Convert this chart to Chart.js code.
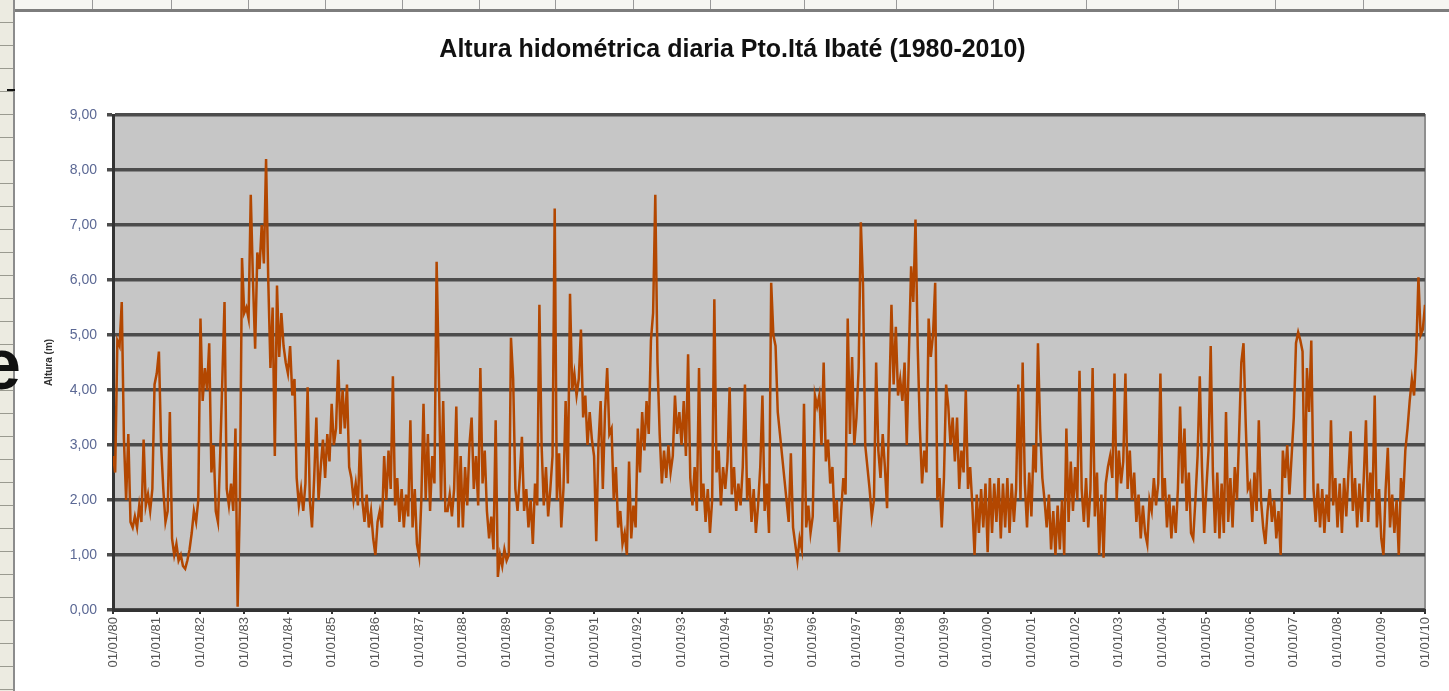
<!DOCTYPE html>
<html>
<head>
<meta charset="utf-8">
<script src="https://cdn.jsdelivr.net/npm/chart.js@4.4.1/dist/chart.umd.min.js"></script>
<style>
  body { margin: 0; background: #fff; }
  #marco { position: relative; width: 1449px; height: 691px; overflow: hidden; background: #fff; }
  #grafico { position: absolute; left: 0; top: 0; }
  .regla-sup { position: absolute; left: 0; top: 0; width: 1449px; height: 9px; background: #f6f6f2; }
  .linea-sup { position: absolute; left: 14px; top: 9px; width: 1435px; height: 3px; background: #7d7d7d; }
  .regla-izq { position: absolute; left: 0; top: 0; width: 13px; height: 691px; background: #ecebe1;
    background-image: repeating-linear-gradient(to bottom, transparent 0, transparent 22px, #9a9a90 22px, #9a9a90 23px); }
  .linea-izq { position: absolute; left: 13px; top: 0; width: 2px; height: 691px; background: #8c8c8c; }
  .marca { position: absolute; top: 0; width: 1px; height: 9px; background: #9a9a9a; }
  .guion { position: absolute; left: 7px; top: 89px; width: 8px; height: 2px; background: #111; }
  .letra { position: absolute; left: -19px; top: 328px; font: bold 72px/72px "Liberation Sans", Arial, sans-serif; color: #111; }
</style>
</head>
<body>
<div id="marco">
  <div class="regla-sup"></div>
  <div class="linea-sup"></div>
  <div class="regla-izq"></div>
  <div class="linea-izq"></div>
  <div class="guion"></div>
  <div class="letra">e</div>
  <canvas id="grafico" width="1449" height="691"></canvas>
</div>
<script>
// marcas de la regla superior de la planilla
const marcasRegla = [92, 171, 248, 325, 402, 479, 555, 633, 710, 804, 896, 993, 1086, 1178, 1275, 1363];
marcasRegla.forEach(x => {
    const d = document.createElement('div');
    d.className = 'marca';
    d.style.left = x + 'px';
    document.getElementById('marco').appendChild(d);
});

// datos: altura (m), 20 lecturas por año desde 01/01/80 hasta 01/01/10
const anioInicio = 1980;
const anioFin = 2010;
const lecturasPorAnio = 20;
const etiquetasX = ['01/01/80', '01/01/81', '01/01/82', '01/01/83', '01/01/84', '01/01/85', '01/01/86',
    '01/01/87', '01/01/88', '01/01/89', '01/01/90', '01/01/91', '01/01/92', '01/01/93', '01/01/94',
    '01/01/95', '01/01/96', '01/01/97', '01/01/98', '01/01/99', '01/01/00', '01/01/01', '01/01/02',
    '01/01/03', '01/01/04', '01/01/05', '01/01/06', '01/01/07', '01/01/08', '01/01/09', '01/01/10'];
const ticksY = [0, 1, 2, 3, 4, 5, 6, 7, 8, 9];
const alturas = [
    2.8, 2.5, 4.9, 4.8, 5.6, 3.1, 2.0, 3.2, 1.6, 1.5, 1.7, 1.5, 1.9, 1.6, 3.1, 1.9, 2.1, 1.8, 2.2, 4.1,        // 1980
    4.3, 4.7, 3.0, 2.2, 1.6, 1.8, 3.6, 1.3, 1.0, 1.2, 0.9, 1.0, 0.8, 0.75, 0.9, 1.1, 1.4, 1.8, 1.6, 2.0,       // 1981
    5.3, 3.8, 4.4, 4.0, 4.85, 2.5, 3.0, 1.8, 1.6, 2.8, 4.2, 5.6, 2.2, 1.9, 2.3, 1.8, 3.3, 0.06, 1.9, 6.4,     // 1982
    5.4, 5.5, 5.3, 7.55, 6.0, 4.75, 6.5, 6.2, 7.0, 6.3, 8.2, 6.0, 4.4, 5.5, 2.8, 5.9, 4.6, 5.4, 4.8, 4.5,    // 1983
    4.3, 4.8, 3.9, 4.2, 2.4, 1.9, 2.2, 1.8, 2.3, 4.05, 2.0, 1.5, 2.4, 3.5, 2.0, 2.6, 3.1, 2.4, 3.2, 2.7,      // 1984
    3.75, 3.0, 3.3, 4.55, 3.2, 4.0, 3.3, 4.1, 2.6, 2.4, 2.0, 2.3, 1.9, 3.1, 2.0, 1.6, 2.1, 1.5, 1.8, 1.3,     // 1985
    1.0, 1.6, 1.8, 1.5, 2.8, 2.0, 2.9, 2.2, 4.25, 1.9, 2.4, 1.6, 2.2, 1.5, 2.1, 1.7, 3.45, 1.5, 2.2, 1.2,     // 1986
    0.97, 2.0, 3.75, 2.0, 3.2, 1.8, 2.8, 2.3, 6.33, 4.3, 2.0, 3.8, 1.8, 1.8, 2.1, 1.7, 2.2, 3.7, 1.5, 2.8,    // 1987
    1.5, 2.6, 1.9, 3.0, 3.5, 2.2, 2.8, 1.9, 4.4, 2.3, 2.9, 1.8, 1.3, 1.7, 1.1, 3.45, 0.6, 1.0, 0.8, 1.1,      // 1988
    0.9, 1.0, 4.95, 4.2, 2.2, 1.8, 2.4, 3.15, 1.8, 2.2, 1.5, 2.0, 1.2, 2.3, 1.9, 5.55, 3.0, 1.9, 2.6, 1.7,    // 1989
    2.2, 2.8, 7.3, 2.0, 2.85, 1.5, 2.2, 3.8, 2.3, 5.75, 4.0, 4.3, 3.9, 4.2, 5.1, 3.5, 3.9, 3.0, 3.6, 3.1,     // 1990
    2.8, 1.25, 3.0, 3.8, 2.2, 3.6, 4.4, 3.2, 3.3, 2.0, 2.6, 1.5, 1.8, 1.2, 1.4, 1.0, 2.7, 1.3, 1.9, 1.5,      // 1991
    3.3, 2.5, 3.6, 2.9, 3.8, 3.2, 4.9, 5.4, 7.55, 4.5, 3.2, 2.3, 2.9, 2.4, 3.0, 2.5, 2.8, 3.9, 3.2, 3.6,      // 1992
    3.0, 3.8, 2.8, 4.65, 2.4, 1.9, 2.6, 1.8, 4.4, 2.0, 2.3, 1.6, 2.2, 1.4, 2.0, 5.65, 2.5, 2.9, 1.9, 2.6,     // 1993
    2.2, 2.7, 4.05, 2.1, 2.6, 1.8, 2.3, 1.9, 2.6, 4.1, 2.0, 2.4, 1.6, 2.2, 1.4, 1.9, 2.6, 3.9, 1.8, 2.3,      // 1994
    1.4, 5.95, 5.0, 4.8, 3.6, 3.2, 2.8, 2.4, 2.0, 1.6, 2.85, 1.5, 1.2, 0.9, 1.3, 1.1, 3.75, 1.5, 1.9, 1.4,    // 1995
    1.7, 3.9, 3.7, 3.9, 3.0, 4.5, 2.7, 3.1, 2.3, 2.6, 1.6, 2.0, 1.05, 1.8, 2.4, 2.1, 5.3, 3.2, 4.6, 3.0,      // 1996
    3.5, 4.4, 7.05, 5.9, 3.0, 2.6, 2.2, 1.7, 2.0, 4.5, 2.9, 2.4, 3.2, 2.6, 1.85, 3.8, 5.55, 4.1, 5.15, 3.9,   // 1997
    4.2, 3.8, 4.5, 3.0, 4.7, 6.25, 5.6, 7.1, 4.8, 3.3, 2.3, 2.9, 2.5, 5.3, 4.6, 5.0, 5.95, 2.0, 2.4, 1.5,     // 1998
    2.4, 4.1, 3.7, 3.0, 3.5, 2.7, 3.5, 2.2, 2.9, 2.5, 4.0, 2.2, 2.6, 1.9, 1.0, 2.1, 1.4, 2.2, 1.5, 2.3,       // 1999
    1.05, 2.4, 1.4, 2.3, 1.6, 2.4, 1.3, 2.3, 1.5, 2.4, 1.4, 2.3, 1.6, 2.2, 4.1, 2.0, 4.5, 2.3, 1.5, 2.5,      // 2000
    1.7, 3.0, 2.5, 4.85, 3.3, 2.4, 2.0, 1.5, 2.1, 1.1, 1.8, 1.0, 1.9, 1.1, 2.0, 1.0, 3.3, 1.6, 2.7, 1.8,      // 2001
    2.6, 2.0, 4.35, 2.2, 1.6, 2.4, 1.5, 2.2, 4.4, 1.7, 2.5, 1.0, 2.1, 0.95, 2.3, 2.6, 2.8, 2.4, 4.3, 2.0,     // 2002
    2.9, 2.3, 2.7, 4.3, 2.2, 2.9, 2.0, 2.5, 1.6, 2.1, 1.3, 1.9, 1.4, 1.2, 2.0, 1.8, 2.4, 1.9, 2.3, 4.3,       // 2003
    2.0, 2.4, 1.5, 2.1, 1.3, 1.9, 1.4, 2.2, 3.7, 2.3, 3.3, 1.8, 2.5, 1.4, 1.3, 2.0, 2.8, 4.25, 2.6, 1.4,      // 2004
    2.2, 2.9, 4.8, 2.5, 1.4, 2.5, 1.3, 2.3, 1.4, 3.6, 1.6, 2.4, 1.5, 2.6, 2.0, 3.2, 4.5, 4.85, 3.4, 2.2,      // 2005
    2.3, 1.6, 2.5, 1.8, 3.45, 2.0, 1.5, 1.2, 1.8, 2.2, 1.6, 2.0, 1.3, 1.8, 1.0, 2.9, 2.4, 3.0, 2.1, 2.8,      // 2006
    3.5, 4.85, 5.05, 4.9, 4.7, 2.0, 4.4, 3.6, 4.9, 2.2, 1.6, 2.3, 1.5, 2.2, 1.4, 2.1, 1.6, 3.45, 1.9, 2.4,    // 2007
    1.5, 2.3, 1.4, 2.4, 1.7, 2.5, 3.25, 1.8, 2.4, 1.5, 2.3, 1.6, 2.4, 3.45, 1.6, 2.5, 2.0, 3.9, 1.5, 2.2,     // 2008
    1.3, 1.0, 2.2, 2.95, 1.5, 2.1, 1.4, 2.0, 1.0, 2.4, 2.0, 2.9, 3.3, 3.8, 4.2, 3.9, 4.7, 6.05, 5.0, 5.1,     // 2009
    5.55                                                                                                   // 01/01/10
];

const puntos = alturas.map((v, i) => ({ x: anioInicio + i / lecturasPorAnio, y: v }));
const fuente = '"Liberation Sans", Arial, sans-serif';

// fondo gris del área de trazado y borde claro arriba/derecha
const fondoArea = {
    id: 'fondoArea',
    beforeDraw(chart) {
        const { ctx, chartArea: a } = chart;
        // etiquetas del eje X siempre verticales
        const sx = chart.scales.x;
        sx.labelRotation = 90;
        sx._labelItems = null;
        ctx.save();
        ctx.fillStyle = '#c6c6c6';
        ctx.fillRect(a.left, a.top, a.right - a.left, a.bottom - a.top);
        ctx.strokeStyle = '#8f8f8f';
        ctx.lineWidth = 2;
        ctx.beginPath();
        ctx.moveTo(a.left, a.top);
        ctx.lineTo(a.right, a.top);
        ctx.lineTo(a.right, a.bottom);
        ctx.stroke();
        ctx.restore();
    }
};

const ctx = document.getElementById('grafico').getContext('2d');
const grafico = new Chart(ctx, {
    type: 'line',
    data: {
        datasets: [{
            data: puntos,
            borderColor: '#b34700',
            borderWidth: 2.5,
            pointRadius: 0,
            tension: 0
        }]
    },
    options: {
        responsive: false,
        animation: false,
        layout: { padding: { left: 40, right: 24, top: 0, bottom: 0 } },
        plugins: {
            legend: { display: false },
            tooltip: { enabled: false },
            title: {
                display: true,
                text: 'Altura hidométrica diaria Pto.Itá Ibaté (1980-2010)',
                color: '#111',
                font: { family: fuente, size: 25, weight: 'bold' },
                padding: { top: 35, bottom: 50 }
            }
        },
        scales: {
            x: {
                type: 'linear',
                min: anioInicio,
                max: anioFin,
                afterFit(scale) { scale.height = 81; },
                afterBuildTicks(scale) {
                    scale.ticks = etiquetasX.map((t, i) => ({ value: anioInicio + i }));
                },
                ticks: {
                    autoSkip: false,
                    minRotation: 90,
                    maxRotation: 90,
                    padding: 3,
                    color: '#555',
                    font: { family: fuente, size: 13 },
                    callback: (v) => etiquetasX[Math.round(v - anioInicio)]
                },
                grid: { drawOnChartArea: false, drawTicks: true, tickLength: 4, color: '#333', lineWidth: 2 },
                border: { display: true, color: '#333', width: 3 }
            },
            y: {
                min: 0,
                max: 9,
                afterFit(scale) { scale.width = 73; },
                afterBuildTicks(scale) {
                    scale.ticks = ticksY.map(v => ({ value: v }));
                },
                ticks: {
                    padding: 10,
                    color: '#5b6894',
                    font: { family: fuente, size: 14 },
                    callback: (v) => v.toFixed(2).replace('.', ',')
                },
                title: {
                    display: true,
                    text: 'Altura (m)',
                    color: '#333',
                    font: { family: fuente, size: 10, weight: 'bold' },
                    padding: { top: 3, bottom: 0 }
                },
                grid: { color: '#4c4c4c', lineWidth: 3.5, drawTicks: true, tickLength: 6 },
                border: { display: true, color: '#333', width: 3 }
            }
        }
    },
    plugins: [fondoArea]
});
</script>
</body>
</html>
